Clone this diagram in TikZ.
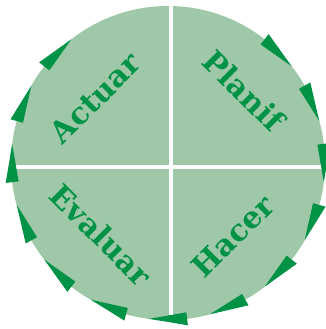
\documentclass[tikz,border=0pt]{standalone}
\usepackage{fontspec}
\usepackage{tikz}
\newfontfamily\stepfont{DejaVu Serif}
\definecolor{pdcafill}{RGB}{158,200,168}
\definecolor{pdcagreen}{RGB}{0,146,69}

\begin{document}
\begin{tikzpicture}[x=1pt,y=1pt,
	steplabel/.style={text=pdcagreen, inner sep=0pt, font=\stepfont\fontsize{30}{30}\selectfont\bfseries}]
	\useasboundingbox (0,0) rectangle (326,329);
	\coordinate (c) at (168,166);
	% the disc, cut in four by a white cross
	\fill[pdcafill] (c) circle (157);
	\fill[white] (168.5,0) rectangle (173.3,329);
	\fill[white] (0,159.5) rectangle (326,164);
	% arrow heads round the rim, clockwise
	\foreach \a in {45,22.5,...,-225}
		\fill[pdcagreen] ([shift={({\a+7}:150.5)}]c) -- ([shift={({\a+7}:163.5)}]c) -- ([shift={({\a-7}:157)}]c) -- cycle;
	\node[steplabel, rotate=45] (actuar) at (95,231) {Actuar};
	\node[steplabel, rotate=-45] (planif) at (244,238) {Planif};
	\node[steplabel, rotate=-45] (evaluar) at (101,94) {Evaluar};
	\node[steplabel, rotate=45] (hacer) at (233,93) {Hacer};
\end{tikzpicture}
\end{document}
